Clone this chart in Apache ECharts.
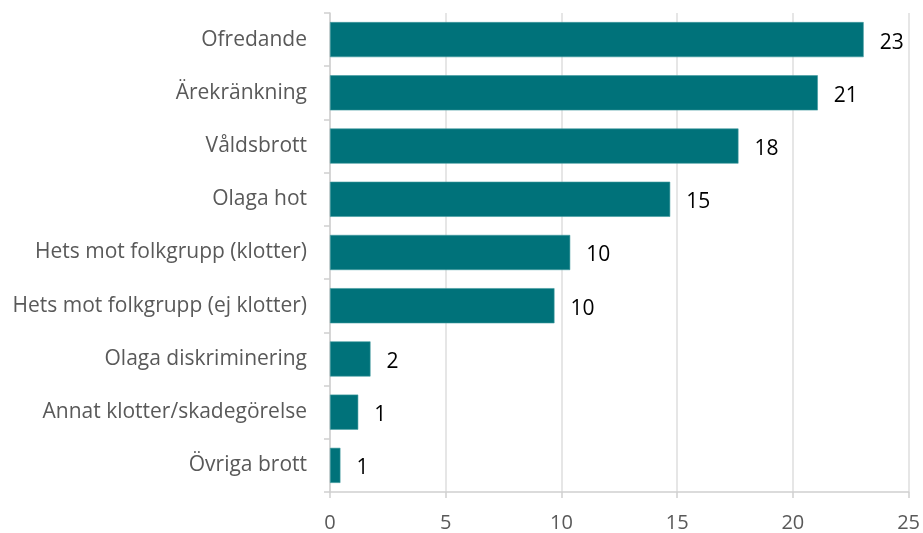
<!DOCTYPE html>
<html lang="sv">
<head>
<meta charset="UTF-8">
<title>Brottstyper</title>
<style>
    *{ margin: 0; padding: 0; }
    body{ background: #fff; }
    #chart{ width: 923px; height: 533px; }
</style>
</head>
<body>
<div id="chart"></div>
<script src="https://cdn.jsdelivr.net/npm/echarts@6/dist/echarts.min.js"></script>
<script>
// kategorier uppifrån och ned
var categories = ['Ofredande', 'Ärekränkning', 'Våldsbrott', 'Olaga hot',
    'Hets mot folkgrupp (klotter)', 'Hets mot folkgrupp (ej klotter)',
    'Olaga diskriminering', 'Annat klotter/skadegörelse', 'Övriga brott']
// stapellängder
var values = [23.06, 21.08, 17.65, 14.7, 10.38, 9.7, 1.75, 1.22, 0.45]
// etiketterna som står vid staplarna
var labelTexts = ['23', '21', '18', '15', '10', '10', '2', '1', '1']
var xTicks = [0, 5, 10, 15, 20, 25]

var chart = echarts.init(document.getElementById('chart'))

var font = '"Open Sans", "Liberation Sans", sans-serif'

var option = {
    animation: false,
    grid: { left: 330, right: 14, top: 13, bottom: 39, containLabel: false },
    xAxis: {
        type: 'value',
        min: xTicks[0],
        max: xTicks[xTicks.length - 1],
        interval: 5,
        axisLine: { show: true, lineStyle: { color: '#d0d0d0', width: 1.5 } },
        axisTick: { show: true, length: 6, lineStyle: { color: '#d0d0d0', width: 1.5 } },
        splitLine: { show: true, lineStyle: { color: '#dedede', width: 1.5 } },
        axisLabel: { color: '#595959', fontSize: 20, fontFamily: font, margin: 21 }
    },
    yAxis: {
        type: 'category',
        inverse: true,
        data: categories,
        axisLine: { show: true, lineStyle: { color: '#d0d0d0', width: 1.5 } },
        axisTick: { show: true, length: 6, lineStyle: { color: '#d0d0d0', width: 1.5 } },
        axisLabel: { color: '#595959', fontSize: 21, fontFamily: font, margin: 23 }
    },
    series: [{
        type: 'bar',
        data: values,
        barCategoryGap: '34%',
        itemStyle: { color: '#00727a', borderColor: '#3f9aa0', borderWidth: 0.6 },
        label: {
            show: true,
            position: 'right',
            distance: 16,
            offset: [0, 3],
            color: '#000',
            fontSize: 21,
            fontFamily: font,
            formatter: function (p) {
                return labelTexts[p.dataIndex]
            }
        }
    }]
}

chart.setOption(option)
</script>
</body>
</html>
